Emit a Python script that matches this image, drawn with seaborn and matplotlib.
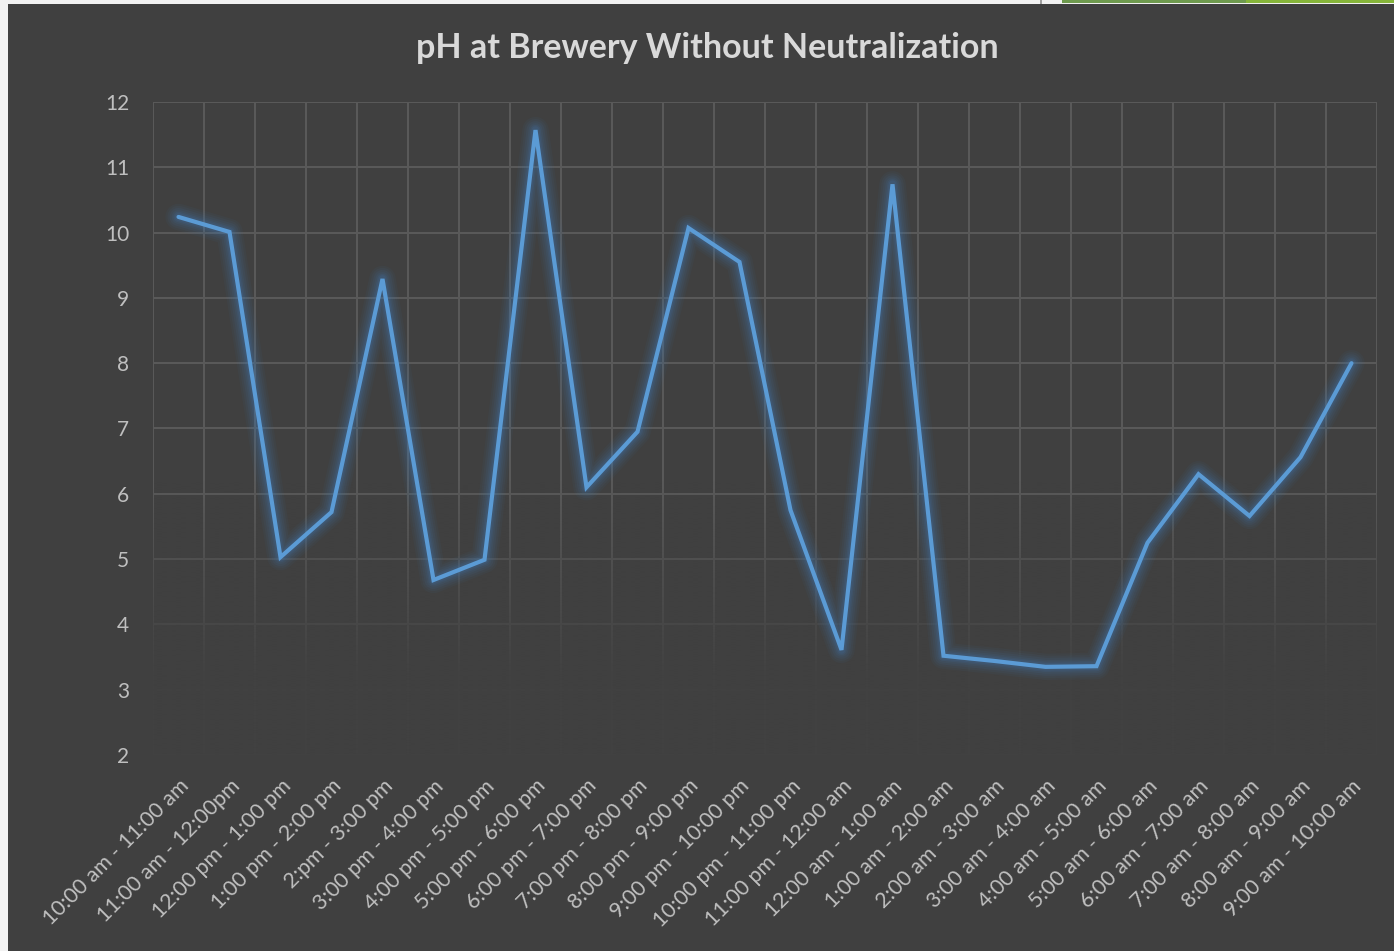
import numpy as np
import pandas as pd
import matplotlib
matplotlib.use("Agg")
import matplotlib.pyplot as plt
from matplotlib.patches import Rectangle
import seaborn as sns

# ---- data ----
slots = [
    "10:00 am - 11:00 am", "11:00 am - 12:00pm", "12:00 pm - 1:00 pm",
    "1:00 pm - 2:00 pm", "2:pm - 3:00 pm", "3:00 pm - 4:00 pm",
    "4:00 pm - 5:00 pm", "5:00 pm - 6:00 pm", "6:00 pm - 7:00 pm",
    "7:00 pm - 8:00 pm", "8:00 pm - 9:00 pm", "9:00 pm - 10:00 pm",
    "10:00 pm - 11:00 pm", "11:00 pm - 12:00 am", "12:00 am - 1:00 am",
    "1:00 am - 2:00 am", "2:00 am - 3:00 am", "3:00 am - 4:00 am",
    "4:00 am - 5:00 am", "5:00 am - 6:00 am", "6:00 am - 7:00 am",
    "7:00 am - 8:00 am", "8:00 am - 9:00 am", "9:00 am - 10:00 am",
]
ph = [10.24, 10.01, 5.03, 5.72, 9.29, 4.68, 4.99, 11.57, 6.10, 6.95,
      10.07, 9.55, 5.75, 3.61, 10.74, 3.52, 3.44, 3.35, 3.36, 5.25,
      6.30, 5.66, 6.56, 8.00]
y_ticks = list(range(2, 13))
title = "pH at Brewery Without Neutralization"

df = pd.DataFrame({"slot": slots, "ph": ph})

BG = "#404040"
GRID = "#5a5a5a"
TXT = "#bfbfbf"
LINE = "#5b9bd5"
GLOW = "#3f7fc0"

sns.set_theme(style="dark")
plt.rcParams["font.family"] = ["Lato", "DejaVu Sans"]

W, H = 1394, 951
fig = plt.figure(figsize=(W / 100, H / 100), dpi=100, facecolor=BG)

# frame decoration (screenshot edges)
fig.patches.append(Rectangle((0, 0), 8 / W, 1, transform=fig.transFigure,
                             facecolor="#f2f2f2", edgecolor="none", zorder=0))
fig.patches.append(Rectangle((0, 1 - 4 / H), 1, 4 / H, transform=fig.transFigure,
                             facecolor="#f2f2f2", edgecolor="none", zorder=0))
fig.patches.append(Rectangle((1062 / W, 1 - 3 / H), 184 / W, 3 / H, transform=fig.transFigure,
                             facecolor="#6e9a4e", edgecolor="none", zorder=1))
fig.patches.append(Rectangle((1246 / W, 1 - 3 / H), 148 / W, 3 / H, transform=fig.transFigure,
                             facecolor="#86b53a", edgecolor="none", zorder=1))
fig.patches.append(Rectangle((1040 / W, 1 - 4 / H), 1.5 / W, 4 / H, transform=fig.transFigure,
                             facecolor="#a0a0a0", edgecolor="none", zorder=1))

left, right, top, bottom = 153, 1377, 102, 755
ax = fig.add_axes([left / W, 1 - bottom / H, (right - left) / W, (bottom - top) / H])
ax.set_facecolor(BG)

# glow layers
for lw, a in [(19, 0.05), (16, 0.06), (13, 0.07), (10, 0.08), (7.5, 0.10), (5.5, 0.12)]:
    sns.lineplot(data=df, x="slot", y="ph", sort=False, ax=ax, color=GLOW,
                 linewidth=lw, alpha=a, solid_capstyle="round",
                 solid_joinstyle="round", zorder=3)
sns.lineplot(data=df, x="slot", y="ph", sort=False, ax=ax, color=LINE,
             linewidth=3.0, solid_capstyle="round", solid_joinstyle="miter", zorder=4)

n = len(slots)
ax.set_xticks(range(n))
ax.set_xticks(np.arange(-0.5, n, 1), minor=True)
ax.set_xticklabels(slots, rotation=45, ha="right", rotation_mode="anchor",
                   fontsize=15.5, color=TXT)
ax.set_yticks(y_ticks)
ax.tick_params(axis="y", labelsize=15, labelcolor=TXT, length=0, pad=17)
ax.tick_params(axis="x", which="both", length=0, pad=15)
ax.set_xlabel("")
ax.set_ylabel("")

ax.set_axisbelow(True)
ax.grid(False)
ax.yaxis.grid(True, color=GRID, linewidth=1.4)
ax.xaxis.grid(True, which="minor", color=GRID, linewidth=1.4)
for s in ax.spines.values():
    s.set_visible(False)

# fading of the grid toward the bottom (as in reference)
f = np.linspace(1, 0, 400)[:, None]
alpha = np.clip((0.42 - f) / 0.30, 0, 1) * 0.95
rgba = np.zeros((400, 1, 4))
rgba[..., :3] = np.array([0x40, 0x40, 0x40]) / 255
rgba[..., 3] = alpha
ax.imshow(rgba, extent=(0, 1, 0, 1), transform=ax.transAxes, aspect="auto",
          zorder=1.5, interpolation="bilinear")
ax.set_xlim(-0.5, n - 0.5)
ax.set_ylim(min(y_ticks), max(y_ticks))

fig.text(707 / W, 1 - 48 / H, title, ha="center", va="center",
         fontsize=24.5, fontweight="bold", color="#d9d9d9")

fig.savefig("out.png", dpi=100, facecolor=BG)
